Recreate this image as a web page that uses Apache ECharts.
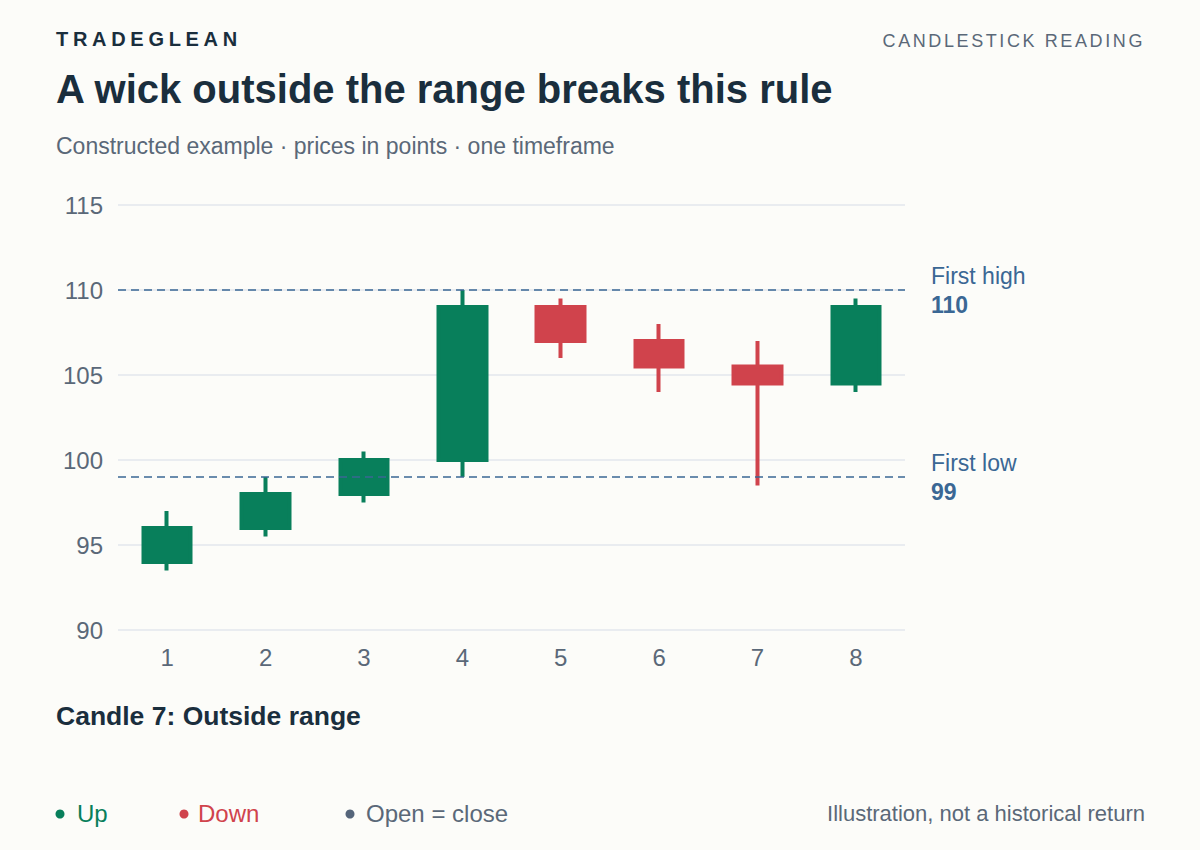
<!DOCTYPE html>
<html>
<head>
<meta charset="utf-8">
<script src="https://cdn.jsdelivr.net/npm/echarts@6/dist/echarts.min.js"></script>
<style>
  html, body { margin: 0; padding: 0; background: #fcfcf9; }
  #chart { width: 1200px; height: 850px; }
</style>
</head>
<body>
<div id="chart"></div>
<script>
// ---- data ----
const categories = ['1', '2', '3', '4', '5', '6', '7', '8'];
// [open, close, low, high]
const candles = [
  [94, 96, 93.5, 97],
  [96, 98, 95.5, 99],
  [98, 100, 97.5, 100.5],
  [100, 109, 99, 110],
  [109, 107, 106, 109.5],
  [107, 105.5, 104, 108],
  [105.5, 104.5, 98.5, 107],
  [104.5, 109, 104, 109.5]
];
const firstHigh = 110;
const firstLow = 99;
const yTicks = { min: 90, max: 115, interval: 5 };
const legendItems = ['Up', 'Down', 'Open = close'];

// ---- style ----
const FONT = '"Liberation Sans", Arial, Helvetica, sans-serif';
const UP = '#087f5b';
const DOWN = '#d0434c';
const NEUTRAL = '#55657a';
const INK = '#1a2e3d';
const MUTED = '#5a6878';
const REF = '#3a6794';

const chart = echarts.init(document.getElementById('chart'), null, { renderer: 'svg' });

function txt(x, y, text, font, fill, align) {
  return { type: 'text', x: x, y: y,
    style: { text: text, font: font, fill: fill, align: align || 'left', verticalAlign: 'middle' } };
}

const option = {
  backgroundColor: '#fcfcf9',
  animation: false,
  textStyle: { fontFamily: FONT },
  grid: { left: 118, right: 295, top: 205, bottom: 220 },
  xAxis: {
    type: 'category',
    data: categories,
    axisLine: { show: false },
    axisTick: { show: false },
    axisLabel: { color: MUTED, fontSize: 24, margin: 15, fontFamily: FONT }
  },
  yAxis: {
    type: 'value',
    min: yTicks.min,
    max: yTicks.max,
    interval: yTicks.interval,
    axisLine: { show: false },
    axisTick: { show: false },
    axisLabel: { color: MUTED, fontSize: 24, margin: 15, fontFamily: FONT },
    splitLine: { lineStyle: { color: '#e3e7ec', width: 1.5 } }
  },
  series: [{
    type: 'candlestick',
    data: candles,
    barWidth: 48,
    itemStyle: {
      color: UP,
      color0: DOWN,
      borderColor: UP,
      borderColor0: DOWN,
      borderWidth: 4
    },
    markLine: {
      silent: true,
      symbol: 'none',
      lineStyle: { color: REF, type: [8, 5], width: 1.5 },
      label: {
        position: 'end',
        distance: 26,
        align: 'left',
        formatter: function (p) { return '{a|' + p.name + '}\n{b|' + p.value + '}'; },
        rich: {
          a: { color: REF, fontSize: 23, fontFamily: FONT, lineHeight: 29 },
          b: { color: REF, fontSize: 23, fontWeight: 'bold', fontFamily: FONT, lineHeight: 29 }
        }
      },
      data: [
        { name: 'First high', yAxis: firstHigh },
        { name: 'First low', yAxis: firstLow }
      ]
    }
  }],
  graphic: [
    txt(56, 39, 'TRADEGLEAN', 'bold 20px ' + FONT, INK),
    txt(1145, 41, 'CANDLESTICK READING', '18px ' + FONT, MUTED, 'right'),
    txt(56, 89, 'A wick outside the range breaks this rule', 'bold 40px ' + FONT, INK),
    txt(56, 146, 'Constructed example · prices in points · one timeframe', '23px ' + FONT, MUTED),
    txt(56, 716, 'Candle 7: Outside range', 'bold 26.5px ' + FONT, INK),
    { type: 'circle', shape: { cx: 60, cy: 814, r: 4.5 }, style: { fill: UP } },
    txt(77, 813, legendItems[0], '24px ' + FONT, UP),
    { type: 'circle', shape: { cx: 184, cy: 814, r: 4.5 }, style: { fill: DOWN } },
    txt(198, 813, legendItems[1], '24px ' + FONT, DOWN),
    { type: 'circle', shape: { cx: 350, cy: 814, r: 4.5 }, style: { fill: NEUTRAL } },
    txt(366, 813, legendItems[2], '24px ' + FONT, MUTED),
    txt(1145, 813, 'Illustration, not a historical return', '22px ' + FONT, MUTED, 'right')
  ]
};

chart.setOption(option);

function applySpacing() {
  const texts = document.querySelectorAll('#chart svg text');
  texts.forEach(function (t) {
    if (t.textContent === 'TRADEGLEAN') t.setAttribute('letter-spacing', '4.7');
    if (t.textContent === 'CANDLESTICK READING') t.setAttribute('letter-spacing', '2.6');
  });
}
applySpacing();
chart.on('finished', applySpacing);
</script>
</body>
</html>
